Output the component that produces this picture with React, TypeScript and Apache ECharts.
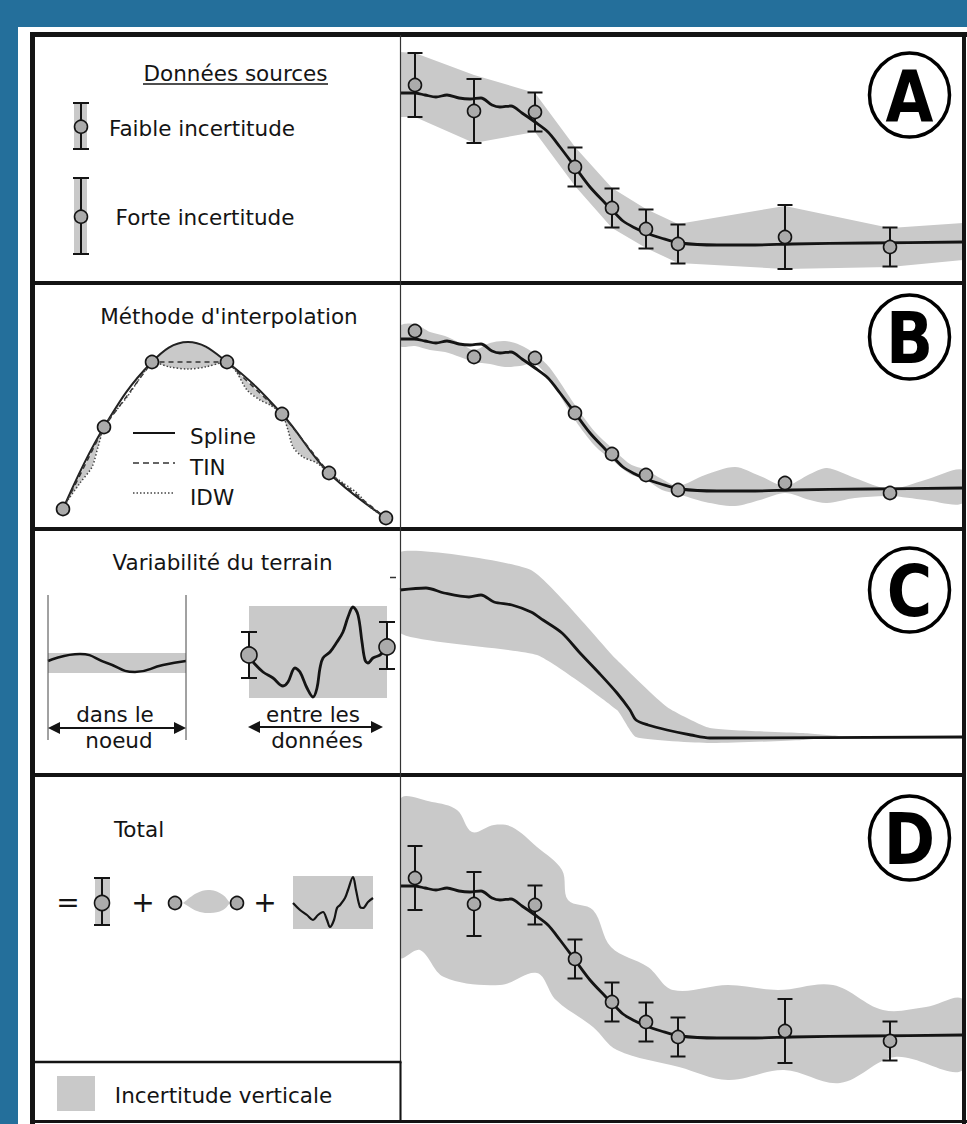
import React, { useEffect, useRef } from 'react';
import * as echarts from 'echarts';

// ---------- profile data (distance along profile, elevation) ----------
const stationX = [15, 74, 135, 175, 212, 246, 278, 385, 490];
const stationZ = [198, 172, 171, 116, 75, 54, 39, 46, 36];
const stationZD = [198, 172, 171, 117, 74, 54, 39, 45, 35];
const stationU = [32, 32, 19.5, 19.5, 19.5, 19.5, 19.5, 32, 19.5];

const profileX = [0, 14, 25, 36, 47, 59, 70, 81, 92, 100, 111, 122, 135, 148, 160, 175, 190, 205, 212, 223, 235, 246, 261, 280, 317, 355, 392, 467, 563];
const profileZ = [190, 190, 188, 186, 188, 185, 184, 185, 178, 176, 177, 170, 161, 151, 136, 116, 96, 80, 73, 62, 55, 50, 45, 40, 38, 38, 39, 40, 41];

const cProfileX = [0, 26, 44, 69, 81, 94, 112, 131, 143, 162, 180, 199, 217, 230, 236, 248, 267, 291, 310, 563];
const cProfileZ = [187, 189, 184, 180, 182, 175, 172, 165, 157, 144, 124, 104, 84, 67, 57, 52, 47, 42, 39, 40];

// uncertainty bands
const aBandUp = [[0, 231], [15, 230], [74, 208], [135, 190], [175, 136], [212, 95], [246, 74], [278, 59], [385, 77], [490, 55], [563, 60]];
const aBandLo = [[0, 166], [15, 166], [74, 140], [135, 151], [175, 97], [212, 55], [246, 35], [278, 20], [385, 14], [490, 16], [563, 23]];

const bBandX = [0, 15, 30, 45, 60, 74, 90, 105, 120, 135, 150, 175, 195, 212, 230, 246, 262, 278, 305, 335, 360, 385, 410, 427, 455, 490, 525, 563];
const bBandUp = [203, 205, 197, 193, 186, 179, 186, 188, 184, 175, 161, 124, 97, 81, 65, 59, 50, 43, 54, 62, 53, 43, 55, 61, 51, 40, 49, 59];
const bBandLo = [183, 183, 179, 177, 172, 167, 165, 162, 163, 165, 149, 109, 83, 69, 55, 49, 39, 35, 27, 23, 29, 36, 29, 26, 31, 33, 29, 26];

const cBandUp = [[0, 225], [131, 207], [217, 117], [267, 70], [310, 49], [402, 44], [440, 41]];
const cBandLo = [[0, 144], [137, 122], [217, 67], [236, 40], [310, 34], [402, 37], [440, 41]];

const dBandUp = [[0, 276], [32, 274], [57, 266], [72, 244], [94, 251], [112, 249], [137, 229], [162, 206], [168, 176], [193, 166], [211, 129], [248, 109], [273, 86], [328, 91], [378, 86], [433, 91], [483, 66], [526, 69], [563, 76]];
const dBandLo = [[0, 119], [20, 126], [44, 99], [100, 91], [137, 103], [156, 76], [193, 49], [217, 26], [279, 9], [328, -4], [384, 6], [440, -7], [495, 19], [563, 6]];

// ---------- left-hand diagrams ----------
const knotX = [31, 72, 120, 195, 250, 297, 354];
const knotZ = [20, 102, 167, 167, 115, 56, 11];
const splineX = [31, 72, 120, 156, 195, 250, 297, 354];
const splineZ = [20, 102, 167, 187, 167, 115, 56, 11];
const idwX = [31, 36, 48, 60, 66, 72, 78, 95, 108, 115, 120, 138, 156, 173, 195, 205, 215, 228, 238, 250, 256, 261, 271, 285, 297, 311, 325, 338, 354];
const idwZ = [20, 29, 46, 62, 82, 102, 111, 132, 151, 161, 167, 162, 160, 162, 167, 156, 139, 129, 124, 115, 99, 82, 72, 66, 56, 46, 36, 22, 11];
const shadeLens = { up: [[120, 167], [138, 182], [156, 187], [173, 182], [195, 167]], lo: [[120, 167], [138, 162], [156, 160], [173, 162], [195, 167]] };
const shadeS1 = { up: [[31, 20], [72, 102]], lo: [[31, 20], [36, 29], [48, 46], [60, 62], [66, 82], [72, 102]] };
const shadeS4 = { up: [[195, 167], [250, 115]], lo: [[195, 167], [205, 156], [215, 139], [228, 129], [238, 124], [250, 115]] };
const shadeS5 = { up: [[250, 115], [297, 56]], lo: [[250, 115], [256, 99], [261, 82], [271, 72], [285, 66], [297, 56]] };

const knotLineX = [16, 48, 75, 103, 131, 154];
const knotLineZ = [114, 121, 112, 103, 110, 114];
const knotBand = { up: [[16, 122], [154, 122]], lo: [[16, 102], [154, 102]] };
const betweenBox = { up: [[217, 169], [355, 169]], lo: [[217, 77], [355, 77]] };
const wiggleX = [221, 231, 241, 251, 256, 263, 268, 275, 281, 285, 288, 291, 298, 305, 311, 316, 321, 326, 330, 333, 336, 341, 348, 353];
const wiggleZ = [113, 103, 97, 89, 93, 107, 103, 87, 78, 87, 107, 117, 123, 133, 143, 158, 168, 160, 133, 115, 112, 117, 120, 125];
const betweenPtX = [217, 355];
const betweenPtZ = [120, 128];
const betweenBarZ = [120, 129.5];
const betweenBarU = [23, 23.5];

const totWiggleX = [261, 268, 275, 281, 286, 291, 295, 298, 302, 305, 308, 313, 316, 321, 324, 328, 331, 336, 341];
const totWiggleZ = [159, 152, 147, 142, 147, 150, 142, 135, 142, 154, 157, 164, 172, 185, 172, 155, 154, 160, 164];
const totLens = { up: [[151, 159], [165, 169], [178, 172], [191, 167], [198, 159]], lo: [[151, 159], [165, 151], [178, 149], [191, 152], [198, 159]] };
const totBox = { up: [[261, 186], [341, 186]], lo: [[261, 133], [341, 133]] };
const totPtX = [143, 205];
const totPtZ = [159, 159];

const GREY = '#c9c9c9';
const DOT = '#ababab';
const INK = '#141414';
const FONT = '"DejaVu Sans", Verdana, sans-serif';

const grids = [
  { left: 400, top: 35, width: 563, height: 248, min: 0 },
  { left: 400, top: 283, width: 563, height: 246, min: 0 },
  { left: 400, top: 529, width: 563, height: 246, min: 2 },
  { left: 400, top: 775, width: 563, height: 347, min: -46 },
  { left: 32, top: 283, width: 368, height: 246, min: 0 },
  { left: 32, top: 529, width: 368, height: 246, min: 0 },
  { left: 32, top: 775, width: 368, height: 287, min: 0 },
];

const pairs = (xs: number[], zs: number[]) => xs.map((x, i) => [x, zs[i]]);

function band(idx: number, up: number[][], lo: number[][], smooth = 0, fill = GREY) {
  return {
    type: 'custom', xAxisIndex: idx, yAxisIndex: idx, z: 1, silent: true, clip: true,
    data: [up[0]],
    renderItem: (params: any, api: any) => {
      const pts = up.map((p) => api.coord(p)).concat(lo.slice().reverse().map((p) => api.coord(p)));
      const cs = params.coordSys;
      return {
        type: 'group',
        clipPath: { type: 'rect', shape: { x: cs.x, y: cs.y, width: cs.width, height: cs.height } },
        children: [{ type: 'polygon', shape: { points: pts, smooth }, style: { fill } }],
      };
    },
  };
}

function errorBars(idx: number, xs: number[], zs: number[], us: number[], cap = 7.5) {
  return {
    type: 'custom', xAxisIndex: idx, yAxisIndex: idx, z: 4, silent: true,
    data: xs.map((x, i) => [x, zs[i], us[i]]),
    renderItem: (_p: any, api: any) => {
      const x = api.value(0), z = api.value(1), u = api.value(2);
      const t = api.coord([x, z + u]);
      const b = api.coord([x, z - u]);
      const st = { stroke: INK, lineWidth: 2 };
      return {
        type: 'group', children: [
          { type: 'line', shape: { x1: t[0], y1: t[1], x2: b[0], y2: b[1] }, style: st },
          { type: 'line', shape: { x1: t[0] - cap, y1: t[1], x2: t[0] + cap, y2: t[1] }, style: st },
          { type: 'line', shape: { x1: b[0] - cap, y1: b[1], x2: b[0] + cap, y2: b[1] }, style: st },
        ],
      };
    },
  };
}

function dots(idx: number, xs: number[], zs: number[], size = 13) {
  return {
    type: 'scatter', xAxisIndex: idx, yAxisIndex: idx, z: 5, silent: true, symbol: 'circle', symbolSize: size,
    data: pairs(xs, zs),
    itemStyle: { color: DOT, borderColor: INK, borderWidth: 1.6, opacity: 1 },
  };
}

function line(idx: number, xs: number[], zs: number[], width = 2.8, type: any = 'solid', smooth: any = 0.3, color = INK) {
  return {
    type: 'line', xAxisIndex: idx, yAxisIndex: idx, z: 3, silent: true, symbol: 'none', showSymbol: false,
    smooth, data: pairs(xs, zs), lineStyle: { color, width, type },
  };
}

const L = (x1: number, y1: number, x2: number, y2: number, w = 2, color = INK, dash?: number[]) => ({
  type: 'line', z: 50, silent: true, shape: { x1, y1, x2, y2 }, style: { stroke: color, lineWidth: w, lineDash: dash },
});
const T = (text: string, x: number, y: number, size = 21.5, align = 'center') => ({
  type: 'text', z: 52, silent: true, x, y,
  style: { text, fill: INK, font: `${size}px ${FONT}`, textAlign: align, textVerticalAlign: 'middle', align, verticalAlign: 'middle' },
});
const R = (x: number, y: number, w: number, h: number, fill = GREY) => ({
  type: 'rect', z: 10, silent: true, shape: { x, y, width: w, height: h }, style: { fill },
});
const C = (cx: number, cy: number, r: number) => ({
  type: 'circle', z: 53, silent: true, shape: { cx, cy, r }, style: { fill: DOT, stroke: INK, lineWidth: 1.6 },
});
const P = (pts: number[][]) => ({ type: 'polygon', z: 50, silent: true, shape: { points: pts }, style: { fill: INK } });

function buildGraphic() {
  const g: any[] = [];
  g.push({ type: 'rect', z: 0, silent: true, shape: { x: 18, y: 27, width: 949, height: 1097 }, style: { fill: '#ffffff' } });
  // frame and separators
  g.push(L(30, 34.5, 967, 34.5, 5));
  g.push(L(32.5, 32, 32.5, 1124, 5));
  g.push(L(964, 32, 964, 1124, 4));
  g.push(L(30, 1121.5, 967, 1121.5, 3));
  [283, 529, 775].forEach((y) => g.push(L(32, y, 966, y, 4)));
  g.push(L(400.5, 35, 400.5, 1122, 1.2, '#333'));
  g.push(L(32, 1062, 401.5, 1062, 2.5));
  g.push(L(400.5, 1062, 400.5, 1122, 2));

  // circled panel letters
  ([['A', 95], ['B', 337], ['C', 590], ['D', 838]] as [string, number][]).forEach(([l, cy]) => {
    g.push({ type: 'ellipse', z: 50, silent: true, shape: { cx: 909.5, cy, rx: 40, ry: 42 }, style: { fill: '#fff', stroke: '#000', lineWidth: 3.5 } });
    g.push({
      type: 'text', z: 51, silent: true, x: 909.5, y: cy + 1, scaleX: 0.86,
      style: { text: l, fill: '#000', font: `bold 72px ${FONT}`, textAlign: 'center', textVerticalAlign: 'middle', align: 'center', verticalAlign: 'middle' },
    });
  });

  // panel A legend
  g.push(T('Données sources', 235.5, 73.3));
  g.push(L(143, 84, 328, 84, 1.5));
  g.push(R(74, 103, 13, 46));
  g.push(L(81, 103, 81, 149, 2), L(73, 103, 89, 103, 2), L(73, 149, 89, 149, 2), C(81, 126.7, 6.5));
  g.push(T('Faible incertitude', 202, 128.6));
  g.push(R(74, 178, 13, 76));
  g.push(L(81, 178, 81, 254, 2), L(73, 178, 89, 178, 2), L(73, 254, 89, 254, 2), C(81, 216.7, 6.5));
  g.push(T('Forte incertitude', 205, 217));

  // panel B legend
  g.push(T("Méthode d'interpolation", 229, 316.6));
  g.push(L(133, 433, 175, 433, 2));
  g.push(L(133, 463, 175, 463, 1.5, '#333', [6, 4]));
  g.push(L(133, 493, 175, 493, 1.5, '#444', [1.5, 2]));
  g.push(T('Spline', 190, 436.6, 21.5, 'left'));
  g.push(T('TIN', 190, 467.6, 21.5, 'left'));
  g.push(T('IDW', 190, 497.6, 21.5, 'left'));

  // panel C legend
  g.push(T('Variabilité du terrain', 222.5, 562.6));
  g.push(L(48, 595, 48, 740, 1, '#444'), L(186, 595, 186, 740, 1, '#444'));
  g.push(L(56, 728, 178, 728, 2), P([[48, 728], [60, 722], [60, 734]]), P([[186, 728], [174, 722], [174, 734]]));
  g.push(L(256, 727, 375, 727, 2), P([[248, 727], [260, 721], [260, 733]]), P([[383, 727], [371, 721], [371, 733]]));
  g.push(T('dans le', 115, 714.6), T('noeud', 119, 740.6));
  g.push(T('entre les', 313, 714.6), T('données', 317, 740.6));
  g.push(L(390, 577.5, 396, 577.5, 1.5, '#333'));

  // panel D legend
  g.push(T('Total', 139, 829.6));
  g.push(T('=', 68, 902, 28), T('+', 143, 902, 28), T('+', 265, 902, 28));
  g.push(R(95, 878, 15, 47));
  g.push(L(102, 878, 102, 925, 2), L(94, 878, 110, 878, 2), L(94, 925, 110, 925, 2), C(102, 903, 7.5));

  // bottom legend
  g.push(R(57, 1076, 38, 35));
  g.push(T('Incertitude verticale', 223.5, 1095.6));
  return g;
}

export default function App() {
  const ref = useRef<HTMLDivElement>(null);
  useEffect(() => {
    if (!ref.current) return;
    const chart = echarts.init(ref.current, undefined, { renderer: 'svg' });
    const series: any[] = [
      // A
      band(0, aBandUp, aBandLo, 0),
      line(0, profileX, profileZ),
      errorBars(0, stationX, stationZ, stationU),
      dots(0, stationX, stationZ),
      // B
      band(1, pairs(bBandX, bBandUp), pairs(bBandX, bBandLo), 0.3),
      line(1, profileX, profileZ),
      dots(1, stationX, stationZ),
      // C
      band(2, cBandUp, cBandLo, 0.15),
      line(2, cProfileX, cProfileZ),
      // D
      band(3, dBandUp, dBandLo, 0.35),
      line(3, profileX, profileZ),
      errorBars(3, stationX, stationZD, stationU),
      dots(3, stationX, stationZD),
      // B left: interpolation methods
      band(4, shadeLens.up, shadeLens.lo, 0.3),
      band(4, shadeS1.up, shadeS1.lo, 0),
      band(4, shadeS4.up, shadeS4.lo, 0),
      band(4, shadeS5.up, shadeS5.lo, 0),
      line(4, splineX, splineZ, 2, 'solid', 0.4, '#222'),
      line(4, knotX, knotZ, 1.5, [5, 4], false, '#333'),
      line(4, idwX, idwZ, 1.5, [1.5, 2], 0.3, '#444'),
      dots(4, knotX, knotZ, 13),
      // C left: terrain variability
      band(5, knotBand.up, knotBand.lo, 0),
      line(5, knotLineX, knotLineZ, 2.5, 'solid', 0.5),
      band(5, betweenBox.up, betweenBox.lo, 0),
      line(5, wiggleX, wiggleZ, 2.8, 'solid', 0.35),
      errorBars(5, betweenPtX, betweenBarZ, betweenBarU, 8),
      dots(5, betweenPtX, betweenPtZ, 16),
      // D left: total
      band(6, totLens.up, totLens.lo, 0.4),
      band(6, totBox.up, totBox.lo, 0),
      line(6, totWiggleX, totWiggleZ, 2.2, 'solid', 0.35),
      dots(6, totPtX, totPtZ, 13),
    ];
    chart.setOption({
      animation: false,
      backgroundColor: '#246f9b',
      grid: grids.map((g) => ({ left: g.left, top: g.top, width: g.width, height: g.height, outerBoundsMode: 'none', containLabel: false, show: false })),
      xAxis: grids.map((g, i) => ({ type: 'value', gridIndex: i, min: 0, max: g.width, show: false, splitLine: { show: false } })),
      yAxis: grids.map((g, i) => ({ type: 'value', gridIndex: i, min: g.min, max: g.min + g.height, show: false, splitLine: { show: false } })),
      graphic: { elements: buildGraphic() },
      series,
    });
    return () => chart.dispose();
  }, []);
  return <div ref={ref} style={{ position: 'absolute', left: 0, top: 0, width: 967, height: 1124 }} />;
}
